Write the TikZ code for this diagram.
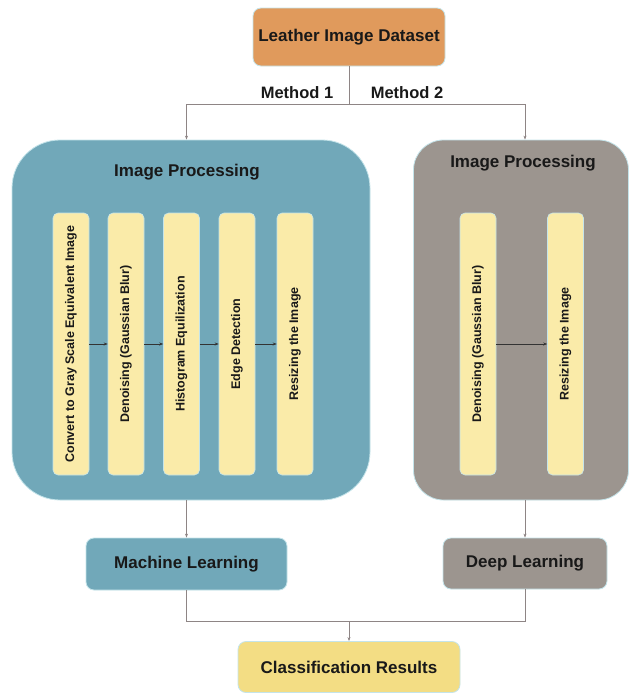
\documentclass[tikz,border=0pt]{standalone}
\usepackage{fontspec}
\setmainfont{Liberation Sans}
\usetikzlibrary{arrows.meta}
\definecolor{orangebox}{HTML}{E09A5C}
\definecolor{tealbox}{HTML}{71A8B9}
\definecolor{greybox}{HTML}{9C958F}
\definecolor{barfill}{HTML}{FAEBA9}
\definecolor{resfill}{HTML}{F3DD84}
\definecolor{rim}{HTML}{C4E4EA}
\definecolor{conn}{HTML}{8E8585}
\tikzset{
  box/.style={draw=rim, line width=0.8pt, rounded corners=8pt, font=\bfseries\fontsize{17}{19}\selectfont, text=black!90, inner sep=0pt},
  bar/.style={draw=rim, line width=0.6pt, fill=barfill, rounded corners=5pt, minimum width=36pt, minimum height=262pt, inner sep=0pt},
  bartext/.style={font=\bfseries\fontsize{12.5}{14}\selectfont, text=black!90, rotate=90},
  conline/.style={draw=conn, line width=0.8pt},
  arr/.style={conline, -{Stealth[length=4pt,width=3pt]}},
  inarr/.style={draw=black!80, line width=0.6pt, -{Stealth[length=4pt,width=3pt]}},
  title/.style={font=\bfseries\fontsize{17}{19}\selectfont, text=black!90},
}
\begin{document}
\begin{tikzpicture}[x=1pt,y=-1pt]
\useasboundingbox[fill=white] (0,0) rectangle (630,696);
% top
\node[box, fill=orangebox, minimum width=192pt, minimum height=58pt] (data) at (349,37) {Leather Image Dataset};
\node[title, font=\bfseries\fontsize{16.5}{18}\selectfont] (m1) at (297,93) {Method 1};
\node[title, font=\bfseries\fontsize{16.5}{18}\selectfont] (m2) at (407,93) {Method 2};
% big boxes
\node[draw=rim, line width=0.8pt, fill=tealbox, rounded corners=48pt, minimum width=358pt, minimum height=360pt, inner sep=0pt] (left) at (191,320) {};
\node[draw=rim, line width=0.8pt, fill=greybox, rounded corners=30pt, minimum width=215pt, minimum height=360pt, inner sep=0pt] (right) at (521,320) {};
\node[title] (lt) at (187,172) {Image Processing};
\node[title] (rt) at (523,163) {Image Processing};
% left bars
\node[bar] (b1) at (71,344) {};
\node[bar] (b2) at (126,344) {};
\node[bar] (b3) at (181.5,344) {};
\node[bar] (b4) at (237,344) {};
\node[bar] (b5) at (295,344) {};
\node[bartext] at (b1) {Convert to Gray Scale Equivalent Image};
\node[bartext] at (b2) {Denoising (Gaussian Blur)};
\node[bartext] at (b3) {Histogram Equilization};
\node[bartext] at (b4) {Edge Detection};
\node[bartext] at (b5) {Resizing the Image};
% right bars
\node[bar] (r1) at (478,344) {};
\node[bar] (r2) at (565.5,344) {};
\node[bartext] at (r1) {Denoising (Gaussian Blur)};
\node[bartext] at (r2) {Resizing the Image};
% inner arrows
\draw[inarr] (b1.east) -- (b2.west);
\draw[inarr] (b2.east) -- (b3.west);
\draw[inarr] (b3.east) -- (b4.west);
\draw[inarr] (b4.east) -- (b5.west);
\draw[inarr] (r1.east) -- (r2.west);
% lower boxes
\node[box, fill=tealbox, minimum width=201pt, minimum height=52pt] (ml) at (186.5,564) {Machine Learning};
\node[box, fill=greybox, minimum width=164pt, minimum height=51pt] (dl) at (525,563.5) {Deep Learning};
\node[box, fill=resfill, minimum width=222pt, minimum height=51pt] (res) at (349,667) {Classification Results};
% connectors
\coordinate (split) at (349,104);
\draw[conline] (data.south) -- (split);
\draw[arr] (split) -| (left.north -| ml.north);
\draw[arr] (split) -| (right.north -| dl.north);
\draw[arr] (left.south -| ml.north) -- (ml.north);
\draw[arr] (right.south -| dl.north) -- (dl.north);
\coordinate (merge) at (349,621);
\draw[conline] (ml.south) |- (merge);
\draw[conline] (dl.south) |- (merge);
\draw[arr] (merge) -- (res.north);
\end{tikzpicture}
\end{document}
